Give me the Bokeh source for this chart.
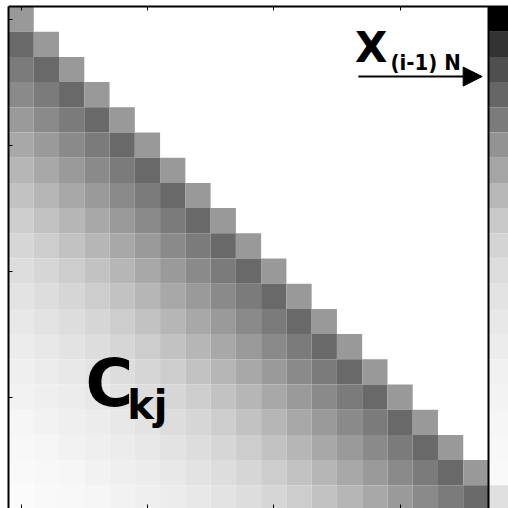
from bokeh.plotting import figure
from bokeh.models import (Range1d, LinearColorMapper, ColumnDataSource, FixedTicker,
                          LinearAxis, Span, Arrow, NormalHead, CustomJSTickFormatter)
from bokeh.palettes import gray
from bokeh.core.properties import value
from bokeh.embed import file_html
from bokeh.resources import INLINE

# Kernel coefficient magnitude per lag (row - column), lower-triangular Toeplitz block
lag_weight = [0.400, 0.588, 0.518, 0.459, 0.396, 0.341, 0.286, 0.239, 0.196, 0.161,
              0.133, 0.110, 0.090, 0.075, 0.063, 0.051, 0.039, 0.031, 0.024, 0.016]
# Input vector x_(i-1)N shown alongside the matrix, one entry per row
x_prev = [1.000, 0.800, 0.690, 0.600, 0.518, 0.424, 0.353, 0.278, 0.216, 0.169,
          0.137, 0.110, 0.090, 0.075, 0.059, 0.047, 0.039, 0.031, 0.024, 0.122]
n_rows = 20
n_cols = 19
tick_idx = [0, 5, 10, 15]

rows, cols, vals = [], [], []
for i in range(n_rows):
    for j in range(min(i + 1, n_cols)):
        rows.append(i)
        cols.append(j)
        vals.append(lag_weight[i - j])

cell_src = ColumnDataSource(dict(r=rows, c=cols, v=vals))
vec_src = ColumnDataSource(dict(r=list(range(n_rows)), c=[n_cols] * n_rows, v=x_prev))

mapper = LinearColorMapper(palette=list(reversed(gray(256))), low=0, high=1)

cw = 480 / 19.0   # pixel width of a column
ch = 25.2         # pixel height of a row

p = figure(width=508, height=508, output_backend="svg", toolbar_location=None,
           x_range=Range1d(-0.5, -0.5 + 500 / cw),
           y_range=Range1d(-0.5 + 502 / ch, -0.5),
           min_border_left=8, min_border_top=6, min_border_right=0, min_border_bottom=0)
p.outline_line_color = None
p.grid.visible = False
p.background_fill_color = "white"

p.rect(x="c", y="r", width=1, height=1, source=cell_src,
       fill_color={"field": "v", "transform": mapper}, line_color=None)
p.rect(x="c", y="r", width=1, height=1, source=vec_src,
       fill_color={"field": "v", "transform": mapper}, line_color=None)

top_axis = LinearAxis()
p.add_layout(top_axis, "above")
blank = CustomJSTickFormatter(code="return '';")
for ax in [p.xaxis[0], p.xaxis[1], p.yaxis[0]]:
    ax.ticker = FixedTicker(ticks=tick_idx)
    ax.formatter = blank
    ax.major_label_standoff = 0
    ax.major_tick_out = 0
    ax.major_tick_in = 4
    ax.minor_tick_line_color = None
    ax.axis_line_width = 2
    ax.axis_line_color = "black"
    ax.major_tick_line_color = "black"
for ax in p.below:
    ax.axis_line_color = None

p.add_layout(Span(location=n_cols - 0.5, dimension="height",
                  line_color="black", line_width=2))

p.text(x=[2.55], y=[14.45], text=["C"], text_font=value("DejaVu Sans"),
       text_font_style="bold", text_font_size="65px", text_color="black",
       text_baseline="alphabetic", text_align="left")
p.text(x=[4.2], y=[15.3], text=["kj"], text_font=value("DejaVu Sans"),
       text_font_style="bold", text_font_size="40px", text_color="black",
       text_baseline="alphabetic", text_align="left")

p.text(x=[13.22], y=[1.12], text=["X"], text_font=value("DejaVu Sans"),
       text_font_style="bold", text_font_size="42px", text_color="black",
       text_baseline="alphabetic", text_align="left")
p.text(x=[14.62], y=[1.72], text=["(i-1) N"], text_font=value("DejaVu Sans Condensed"),
       text_font_style="bold", text_font_size="22px", text_color="black",
       text_baseline="alphabetic", text_align="left")

p.add_layout(Arrow(x_start=13.35, y_start=2.28, x_end=18.25, y_end=2.28,
                   line_color="black", line_width=2,
                   end=NormalHead(size=19, fill_color="black", line_color="black")))

open("out.html", "w").write(file_html(p, INLINE))
